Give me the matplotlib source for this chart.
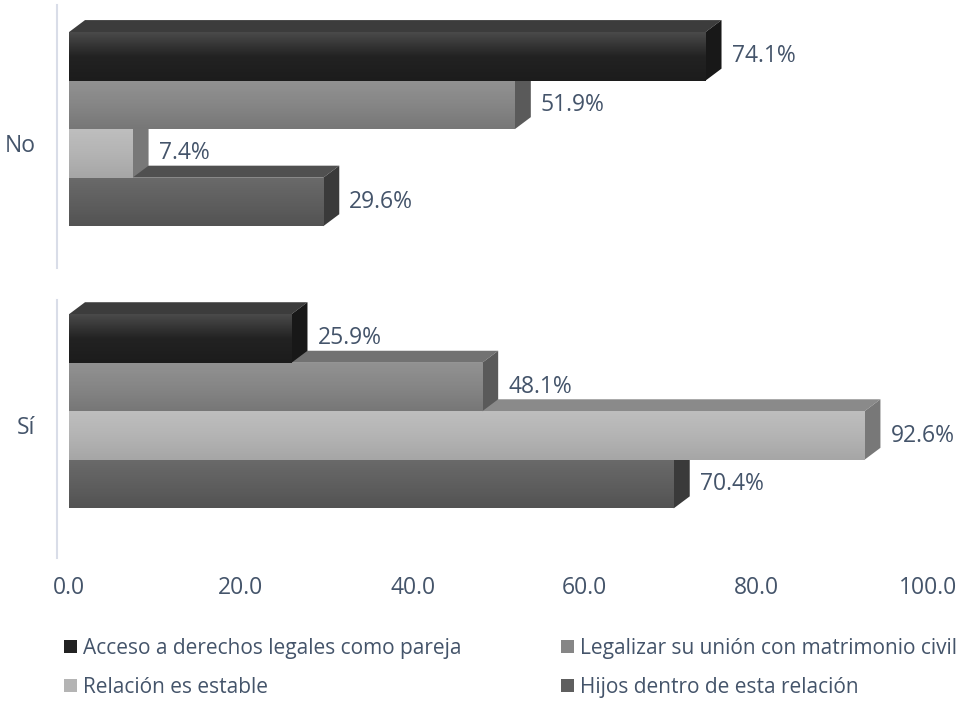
import numpy as np
import matplotlib
matplotlib.use("Agg")
import matplotlib.pyplot as plt
from matplotlib.colors import LinearSegmentedColormap
from matplotlib.patches import Polygon, Patch
from matplotlib.lines import Line2D
from matplotlib.transforms import ScaledTranslation

plt.rcParams['font.family'] = ['Open Sans', 'DejaVu Sans']

# data
categories = ['No', 'Sí']
series = ['Acceso a derechos legales como pareja',
          'Legalizar su unión con matrimonio civil',
          'Relación es estable',
          'Hijos dentro de esta relación']
acceso = [74.1, 25.9]
legalizar = [51.9, 48.1]
relacion = [7.4, 92.6]
hijos = [29.6, 70.4]
values = [acceso, legalizar, relacion, hijos]
xticks = [0, 20, 40, 60, 80, 100]

# colours: front gradient (top, mid, bottom), top face, side face
front_cols = [['#4a4a4a', '#222222', '#1c1c1c'],
              ['#929292', '#868686', '#777777'],
              ['#bebebe', '#b4b4b4', '#a6a6a6'],
              ['#6a6a6a', '#5f5f5f', '#535353']]
top_cols = ['#3c3c3c', '#727272', '#8a8a8a', '#505050']
side_cols = ['#181818', '#5a5a5a', '#787878', '#3a3a3a']
text_col = '#44546a'
fs = 16.5
fs_leg = 15

W, H = 961, 704
fig = plt.figure(figsize=(W / 100, H / 100), dpi=100)
ax = fig.add_axes([69 / W, 1 - 558 / H, (928 - 69) / W, (558 - 5) / H])
ax.set_xlim(0, 100)
ax.set_ylim(1.52, -0.44)

bar_h = 0.172
depth_px = (16, 12)
# depth in data units
dx = depth_px[0] / (ax.bbox.width / 100)
dy = depth_px[1] / (ax.bbox.height / (1.52 + 0.44))

ypos = np.arange(len(categories))
n = len(series)
for i in range(n - 1, -1, -1):
    yc = ypos + (i - (n - 1) / 2) * bar_h
    z = 10 - i
    bars = ax.barh(yc, values[i], height=bar_h, color=front_cols[i][1],
                   linewidth=0, zorder=z)
    cmap = LinearSegmentedColormap.from_list('g%d' % i, front_cols[i])
    grad = np.linspace(0, 1, 64).reshape(-1, 1)
    for b, v, c in zip(bars, values[i], yc):
        y0 = c - bar_h / 2
        y1 = c + bar_h / 2
        im = ax.imshow(grad, cmap=cmap, extent=[0, v, y1, y0], aspect='auto',
                       zorder=z + 0.1, interpolation='bilinear')
        im.set_clip_path(b)
        top = Polygon([(0, y0), (v, y0), (v + dx, y0 - dy), (dx, y0 - dy)],
                      closed=True, facecolor=top_cols[i], edgecolor='none', zorder=z)
        side = Polygon([(v, y0), (v + dx, y0 - dy), (v + dx, y1 - dy), (v, y1)],
                       closed=True, facecolor=side_cols[i], edgecolor='none', zorder=z)
        ax.add_patch(top)
        ax.add_patch(side)
        ax.annotate('%.1f%%' % v, xy=(v, c), xytext=(depth_px[0] + 10, 0),
                    textcoords='offset pixels', va='center', ha='left',
                    fontsize=fs, color=text_col, zorder=20)

ax.set_xlim(0, 100)
ax.set_ylim(1.52, -0.44)

for s in ax.spines.values():
    s.set_visible(False)
ax.set_xticks(xticks)
ax.set_xticklabels(['%.1f' % t for t in xticks])
ax.set_yticks(ypos)
ax.set_yticklabels(categories)
ax.tick_params(axis='both', length=0, labelsize=fs, labelcolor=text_col)
ax.tick_params(axis='x', pad=13)
ax.tick_params(axis='y', pad=24)
for lab in ax.get_yticklabels():
    lab.set_transform(lab.get_transform() + ScaledTranslation(0, -14 / 100, fig.dpi_scale_trans))

# vertical axis line
for ya, yb in [(5, 268), (300, 558)]:
    fig.add_artist(Line2D([57 / W, 57 / W], [1 - ya / H, 1 - yb / H],
                          transform=fig.transFigure, color='#d9dde8', lw=1.5))

# legend (column-major order)
handles = [Patch(facecolor=front_cols[i][1]) for i in range(n)]
order = [0, 2, 1, 3]
fig.legend([handles[k] for k in order], [series[k] for k in order], ncol=2,
           loc='upper left', bbox_to_anchor=(64 / W, 1 - 638 / H), frameon=False,
           fontsize=fs_leg, labelcolor=text_col, handlelength=0.6, handleheight=0.6,
           handletextpad=0.3, columnspacing=4.8, labelspacing=0.85,
           borderpad=0, borderaxespad=0)

fig.savefig('out.png', dpi=100)
